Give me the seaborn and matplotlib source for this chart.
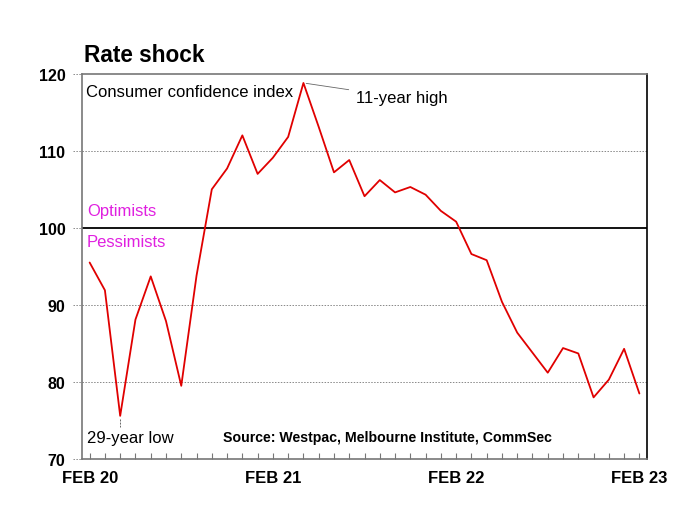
import matplotlib
matplotlib.use("Agg")
import matplotlib.pyplot as plt
import matplotlib.transforms as mtransforms
import seaborn as sns
import pandas as pd
import numpy as np

months = ["Feb 20", "Mar 20", "Apr 20", "May 20", "Jun 20", "Jul 20", "Aug 20", "Sep 20",
          "Oct 20", "Nov 20", "Dec 20", "Jan 21", "Feb 21", "Mar 21", "Apr 21", "May 21",
          "Jun 21", "Jul 21", "Aug 21", "Sep 21", "Oct 21", "Nov 21", "Dec 21", "Jan 22",
          "Feb 22", "Mar 22", "Apr 22", "May 22", "Jun 22", "Jul 22", "Aug 22", "Sep 22",
          "Oct 22", "Nov 22", "Dec 22", "Jan 23", "Feb 23"]
confidence = [95.5, 91.9, 75.6, 88.1, 93.7, 87.9, 79.5, 93.8,
              105.0, 107.7, 112.0, 107.0, 109.1, 111.8, 118.8, 113.1,
              107.2, 108.8, 104.1, 106.2, 104.6, 105.3, 104.3, 102.2,
              100.8, 96.6, 95.8, 90.4, 86.4, 83.8, 81.2, 84.4,
              83.7, 78.0, 80.3, 84.3, 78.5]
xtick_labels = ["FEB 20", "FEB 21", "FEB 22", "FEB 23"]
ytick_values = [70, 80, 90, 100, 110, 120]

sns.set_style("white")
plt.rcParams['font.family'] = ['Liberation Sans', 'DejaVu Sans']
plt.rcParams['text.color'] = 'black'
plt.rcParams['xtick.color'] = 'black'
plt.rcParams['ytick.color'] = 'black'
plt.rcParams['xtick.labelcolor'] = 'black'
plt.rcParams['ytick.labelcolor'] = 'black'

df = pd.DataFrame({"idx": np.arange(len(months)), "value": confidence})

fig = plt.figure(figsize=(6.8, 5.1), dpi=100)
ax = fig.add_axes([0.1206, 0.098, 0.8309, 0.7555])

# gridlines
for v in [80, 90, 110]:
    ax.axhline(v, color="#888888", lw=0.7, ls=(0, (1.5, 1.5)), zorder=1)
ax.axhline(100, color="black", lw=1.3, zorder=2)

sns.lineplot(data=df, x="idx", y="value", ax=ax, color="#e00000", lw=1.3, zorder=3)

ax.set_xlim(-0.5, len(months) - 0.5)
ax.set_ylim(70, 120)
ax.set_xlabel("")
ax.set_ylabel("")

# x ticks
ax.set_xticks([0, 12, 24, 36])
ax.set_xticklabels(xtick_labels, fontweight="bold", fontsize=12, color="black")
ax.set_xticks(np.arange(len(months)), minor=True)
ax.tick_params(axis="x", which="both", direction="in", length=4, width=0.8,
               color="#777777", bottom=True, pad=8)

# y ticks
ax.set_yticks(ytick_values)
ax.set_yticklabels([str(v) for v in ytick_values], fontweight="bold", fontsize=11.5,
                   color="black")
ax.tick_params(axis="y", which="both", length=0, pad=12, left=True)
trans = mtransforms.blended_transform_factory(ax.transAxes, ax.transData)
for v in ytick_values:
    ax.plot([-0.016, 0], [v, v], transform=trans, color="#888888", lw=0.7,
            ls=(0, (1.5, 1.5)), clip_on=False)

for side in ["left", "bottom", "top"]:
    ax.spines[side].set_color("#777777")
    ax.spines[side].set_linewidth(1.2)
ax.spines["right"].set_color("black")
ax.spines["right"].set_linewidth(1.2)

# annotations
ax.text(0.007, 0.955, "Consumer confidence index", transform=ax.transAxes,
        fontsize=12, va="center", ha="left", color="black")
ax.annotate("11-year high", xy=(14, confidence[14]), xytext=(17.45, 116.9),
            fontsize=12, va="center", ha="left", color="black",
            arrowprops=dict(arrowstyle="-", color="#666666", lw=0.6,
                            shrinkA=3, shrinkB=2))
low_i = int(np.argmin(confidence))
ax.plot([low_i, low_i], [confidence[low_i] - 0.4, confidence[low_i] - 1.45],
        color="#666666", lw=0.7, ls=(0, (2, 1.2)), zorder=3)
ax.text(-0.2, 72.8, "29-year low", fontsize=12, va="center", ha="left", color="black")
ax.text(0.54, 72.9, "Source: Westpac, Melbourne Institute, CommSec",
        fontsize=10.2, fontweight="bold", va="center", ha="center", color="black",
        transform=trans)
ax.text(0.01, 102.2, "Optimists", color="#e020e0", fontsize=12, va="center", ha="left",
        transform=trans)
ax.text(0.008, 98.2, "Pessimists", color="#e020e0", fontsize=12, va="center", ha="left",
        transform=trans)

fig.text(0.124, 0.879, "Rate shock", fontsize=16.3, fontweight="bold", ha="left",
         va="baseline", color="black")

fig.savefig("out.png", dpi=100, facecolor="white")
